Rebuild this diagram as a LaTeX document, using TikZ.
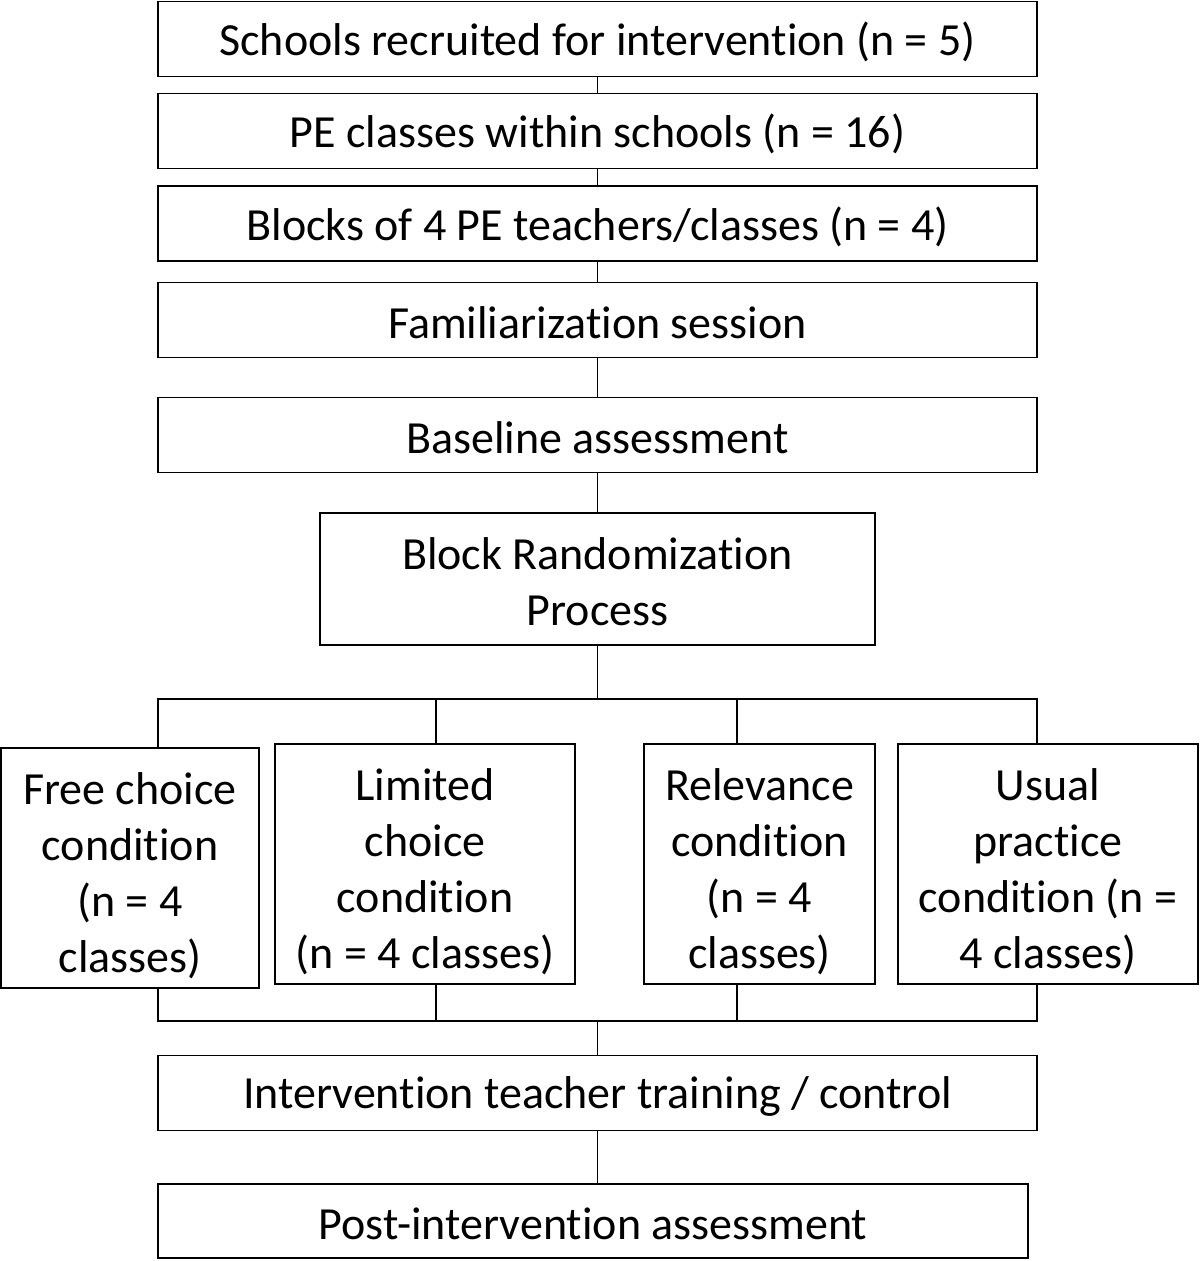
\documentclass[tikz,border=0pt]{standalone}
\usepackage{fontspec}
\setmainfont{Carlito}[Ligatures=NoCommon]
\begin{document}
\begin{tikzpicture}[x=1pt,y=-1pt,
  box/.style={draw=black,line width=1.8pt,inner sep=0pt},
  txt/.style={inner sep=0pt,align=center,yshift=-3pt,
    font=\fontsize{46}{56}\selectfont},
  ctxt/.style={txt,yshift=-5pt},
  wide/.style={box,minimum width=879pt,minimum height=75pt},
  cond/.style={box,minimum height=240pt},
  conn/.style={draw=black,line width=1.6pt}]
\useasboundingbox (0,0) rectangle (1200,1261);
\node[wide,label={[txt]center:{Schools recruited for intervention (n = 5)}}] (b1) at (597.5,39) {};
\node[wide,label={[txt]center:{PE classes within schools (n = 16)}}] (b2) at (597.5,131) {};
\node[wide,label={[txt]center:{Blocks of 4 PE teachers/classes (n = 4)}}] (b3) at (597.5,223.5) {};
\node[wide,label={[txt]center:{Familiarization session}}] (b4) at (597.5,320) {};
\node[wide,label={[txt]center:{Baseline assessment}}] (b5) at (597.5,435) {};
\node[box,minimum width=555pt,minimum height=132pt,label={[txt]center:{Block Randomization\\Process}}] (b6) at (597.5,579) {};
\node[cond,minimum width=258pt,label={[ctxt]center:{Free choice\\condition\\(n = 4\\classes)}}] (c1) at (130,868) {};
\node[cond,minimum width=300pt,label={[ctxt]center:{Limited\\choice\\condition\\(n = 4 classes)}}] (c2) at (425,864) {};
\node[cond,minimum width=231pt,label={[ctxt]center:{Relevance\\condition\\(n = 4\\classes)}}] (c3) at (759.5,864) {};
\node[cond,minimum width=300pt,label={[ctxt]center:{Usual\\practice\\condition (n =\\4 classes)}}] (c4) at (1048,864) {};
\node[wide,label={[txt]center:{Intervention teacher training / control}}] (b7) at (597.5,1093) {};
\node[box,minimum width=870pt,minimum height=74pt,label={[txt]center:{Post-intervention assessment}}] (b8) at (593,1221) {};
\coordinate (s1) at (158,699);
\coordinate (s2) at (436,699);
\coordinate (s3) at (737,699);
\coordinate (s4) at (1037,699);
\coordinate (m1) at (158,1021);
\coordinate (m2) at (436,1021);
\coordinate (m3) at (737,1021);
\coordinate (m4) at (1037,1021);
\coordinate (mc) at (597.5,1021);
\draw[conn] (b1.south) -- (b2.north);
\draw[conn] (b2.south) -- (b3.north);
\draw[conn] (b3.south) -- (b4.north);
\draw[conn] (b4.south) -- (b5.north);
\draw[conn] (b5.south) -- (b6.north);
\draw[conn] (b6.south) -- (b6.south |- s1);
\draw[conn] (s1 |- c1.north) -- (s1) -- (s4) -- (s4 |- c4.north);
\draw[conn] (s2) -- (s2 |- c2.north);
\draw[conn] (s3) -- (s3 |- c3.north);
\draw[conn] (m1 |- c1.south) -- (m1) -- (m4) -- (m4 |- c4.south);
\draw[conn] (m2 |- c2.south) -- (m2);
\draw[conn] (m3 |- c3.south) -- (m3);
\draw[conn] (mc) -- (b7.north);
\draw[conn] (b7.south) -- (b7.south |- b8.north);
\end{tikzpicture}
\end{document}
